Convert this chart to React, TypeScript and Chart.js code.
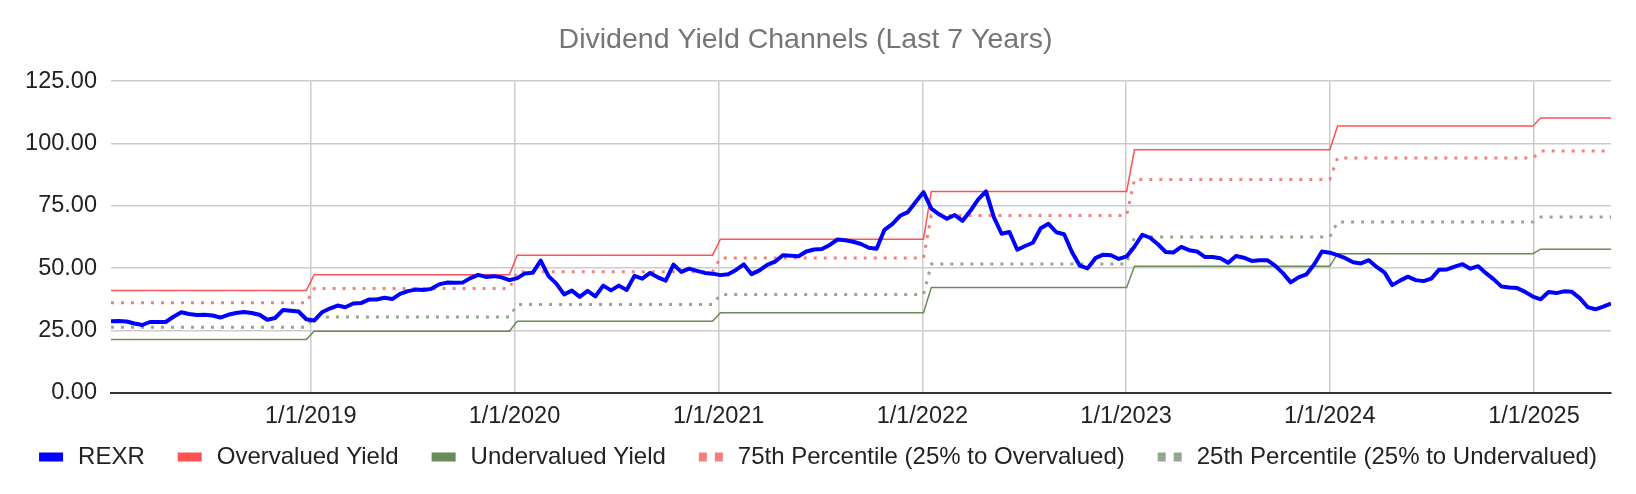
import { useEffect, useRef } from "react";
import { Chart, registerables } from "chart.js";

Chart.register(...registerables);

// REXR dividend yield-based price, one reading every two weeks from the start date
const startDate = "2018-01-08";
const stepDays = 14;
const rexr = [
  28.7, 28.8, 28.6, 27.8, 27.2, 28.4, 28.4, 28.4, 30.5, 32.3,
  31.6, 31.2, 31.3, 31.0, 30.2, 31.3, 32.0, 32.4, 32.0, 31.3,
  29.3, 30.0, 33.2, 32.9, 32.6, 29.5, 29.0, 32.3, 33.8, 35.0,
  34.3, 35.8, 36.0, 37.4, 37.4, 38.1, 37.6, 39.7, 40.8, 41.4,
  41.2, 41.7, 43.5, 44.2, 44.1, 44.2, 46.0, 47.3, 46.5, 46.8,
  46.3, 45.2, 46.0, 47.9, 48.2, 53.0, 46.8, 43.8, 39.5, 41.0,
  38.5, 40.9, 38.7, 43.0, 41.1, 43.0, 41.2, 46.9, 45.8, 48.1,
  46.3, 45.0, 51.4, 48.5, 49.8, 48.9, 48.1, 47.8, 47.2, 47.6,
  49.3, 51.5, 47.6, 49.1, 51.3, 52.6, 55.2, 55.0, 54.8, 56.7,
  57.5, 57.7, 59.3, 61.5, 61.2, 60.6, 59.7, 58.2, 57.8, 65.4,
  67.7, 71.0, 72.5, 76.5, 80.5, 73.9, 71.6, 69.8, 71.3, 69.0,
  73.0, 77.6, 80.8, 70.5, 63.8, 64.5, 57.4, 58.9, 60.2, 66.0,
  67.8, 64.4, 63.6, 56.5, 51.0, 49.9, 54.0, 55.4, 55.2, 53.7,
  54.7, 58.6, 63.4, 62.2, 59.6, 56.5, 56.3, 58.5, 57.2, 56.7,
  54.5, 54.5, 54.0, 52.2, 54.9, 54.2, 52.9, 53.2, 53.2, 51.0,
  48.0, 44.3, 46.3, 47.5, 51.5, 56.7, 56.2, 55.2, 54.0, 52.4,
  51.9, 53.2, 50.5, 48.3, 43.2, 45.0, 46.6, 45.2, 44.8, 45.8,
  49.4, 49.5, 50.6, 51.6, 49.8, 50.8, 48.0, 45.5, 42.6, 42.2,
  42.0, 40.5, 38.6, 37.5, 40.4, 40.0, 40.7, 40.5, 38.0, 34.4,
  33.5, 34.6, 35.8,
];

// yearly channel levels and the date each level takes effect
const levelStarts = [
  "2018-01-01", "2019-01-01", "2020-01-01", "2021-01-01",
  "2022-01-10", "2023-01-10", "2024-01-10", "2025-01-01",
];
const overvalued = [41.0, 47.4, 55.2, 61.6, 80.8, 97.5, 107.0, 110.2];
const pct75 = [36.1, 41.8, 48.6, 54.1, 71.1, 85.6, 94.2, 97.0];
const pct25 = [26.3, 30.4, 35.4, 39.4, 51.7, 62.5, 68.5, 70.5];
const undervalued = [21.4, 24.7, 28.7, 32.1, 42.2, 50.8, 55.8, 57.6];

const xTickDates = [
  "2019-01-01", "2020-01-01", "2021-01-01", "2022-01-01",
  "2023-01-01", "2024-01-01", "2025-01-01",
];
const yTicks = [0, 25, 50, 75, 100, 125];

const FONT = "'Liberation Sans', Arial, sans-serif";
const DAY = 86400000;

const toMs = (d: string) => Date.parse(d + "T00:00:00Z");

const legendItems = [
  { label: "REXR", color: "#0000ff", dotted: false },
  { label: "Overvalued Yield", color: "#ff5252", dotted: false },
  { label: "Undervalued Yield", color: "#6a8a58", dotted: false },
  { label: "75th Percentile (25% to Overvalued)", color: "#f28080", dotted: true },
  { label: "25th Percentile (25% to Undervalued)", color: "#93a88e", dotted: true },
];

const sheetLegend = {
  id: "sheetLegend",
  afterDraw(chart: Chart) {
    const ctx = chart.ctx;
    ctx.save();
    ctx.font = `24px ${FONT}`;
    const boxW = 24;
    const gapText = 15;
    const gapItem = 33;
    const widths = legendItems.map(
      (it) => boxW + gapText + ctx.measureText(it.label).width
    );
    const total =
      widths.reduce((a, b) => a + b, 0) + gapItem * (legendItems.length - 1);
    let x = (chart.width - total) / 2;
    const cy = chart.height - 37;
    legendItems.forEach((it, i) => {
      ctx.fillStyle = it.color;
      if (it.dotted) {
        ctx.fillRect(x, cy - 4.5, 8, 9);
        ctx.fillRect(x + 16, cy - 4.5, 8, 9);
      } else {
        ctx.fillRect(x, cy - 4.5, boxW, 9);
      }
      ctx.fillStyle = "#222222";
      ctx.textBaseline = "middle";
      ctx.textAlign = "left";
      ctx.fillText(it.label, x + boxW + gapText, cy);
      x += widths[i] + gapItem;
    });
    ctx.restore();
  },
};

export default function App() {
  const chartRef = useRef<HTMLCanvasElement | null>(null);

  useEffect(() => {
    const context = chartRef.current?.getContext("2d");
    if (!context) return;

    const t0 = toMs(startDate);
    const dates = rexr.map((_, i) => t0 + i * stepDays * DAY);
    const startsMs = levelStarts.map(toMs);
    const levelAt = (levels: number[], t: number) => {
      let j = 0;
      startsMs.forEach((s, k) => {
        if (s <= t) j = k;
      });
      return levels[j];
    };
    const stepSeries = (levels: number[]) =>
      dates.map((t) => ({ x: t, y: levelAt(levels, t) }));

    const chartInstance = new Chart(context, {
      type: "line",
      data: {
        datasets: [
          {
            label: "REXR",
            data: dates.map((t, i) => ({ x: t, y: rexr[i] })),
            borderColor: "#0000ff",
            borderWidth: 4,
            borderJoinStyle: "round",
          },
          {
            label: "Overvalued Yield",
            data: stepSeries(overvalued),
            borderColor: "#ff5252",
            borderWidth: 1.5,
          },
          {
            label: "Undervalued Yield",
            data: stepSeries(undervalued),
            borderColor: "#6a8a58",
            borderWidth: 1.5,
          },
          {
            label: "75th Percentile (25% to Overvalued)",
            data: stepSeries(pct75),
            borderColor: "#f28080",
            borderWidth: 3,
            borderDash: [3, 7],
            borderCapStyle: "butt",
          },
          {
            label: "25th Percentile (25% to Undervalued)",
            data: stepSeries(pct25),
            borderColor: "#93a88e",
            borderWidth: 3,
            borderDash: [3, 7],
            borderCapStyle: "butt",
          },
        ],
      },
      options: {
        animation: false,
        responsive: true,
        maintainAspectRatio: false,
        elements: {
          point: { radius: 0, hoverRadius: 0 },
          line: { tension: 0 },
        },
        layout: { padding: { left: 0, right: 25, top: 0, bottom: 53 } },
        scales: {
          x: {
            type: "linear",
            min: dates[0],
            max: dates[dates.length - 1],
            afterBuildTicks: (scale: any) => {
              scale.ticks = xTickDates.map((d) => ({ value: toMs(d) }));
            },
            ticks: {
              autoSkip: false,
              maxRotation: 0,
              padding: 10,
              color: "#222222",
              font: { family: FONT, size: 23.5 },
              callback: (v: any) => {
                const d = new Date(Number(v));
                return `${d.getUTCMonth() + 1}/${d.getUTCDate()}/${d.getUTCFullYear()}`;
              },
            },
            grid: { color: "#cccccc", lineWidth: 1.5, drawTicks: false },
            border: { display: true, color: "#333333", width: 2 },
          },
          y: {
            min: 0,
            max: 125,
            afterBuildTicks: (scale: any) => {
              scale.ticks = yTicks.map((v) => ({ value: v }));
            },
            afterFit: (scale: any) => {
              scale.width = 111;
            },
            ticks: {
              padding: 14,
              color: "#222222",
              font: { family: FONT, size: 23.5 },
              callback: (v: any) => Number(v).toFixed(2),
            },
            grid: { color: "#cccccc", lineWidth: 1.5, drawTicks: false },
            border: { display: false },
          },
        },
        plugins: {
          legend: { display: false },
          tooltip: { enabled: false },
          title: {
            display: true,
            text: "Dividend Yield Channels (Last 7 Years)",
            color: "#757575",
            font: { family: FONT, size: 28.5, weight: "normal" },
            padding: { top: 23, bottom: 24 },
          },
        },
      },
      plugins: [sheetLegend],
    } as any);

    return () => {
      chartInstance.destroy();
    };
  }, []);

  return (
    <div
      style={{
        position: "fixed",
        left: 0,
        top: 0,
        width: "1636px",
        height: "494px",
        background: "#ffffff",
      }}
    >
      <canvas ref={chartRef} />
    </div>
  );
}
